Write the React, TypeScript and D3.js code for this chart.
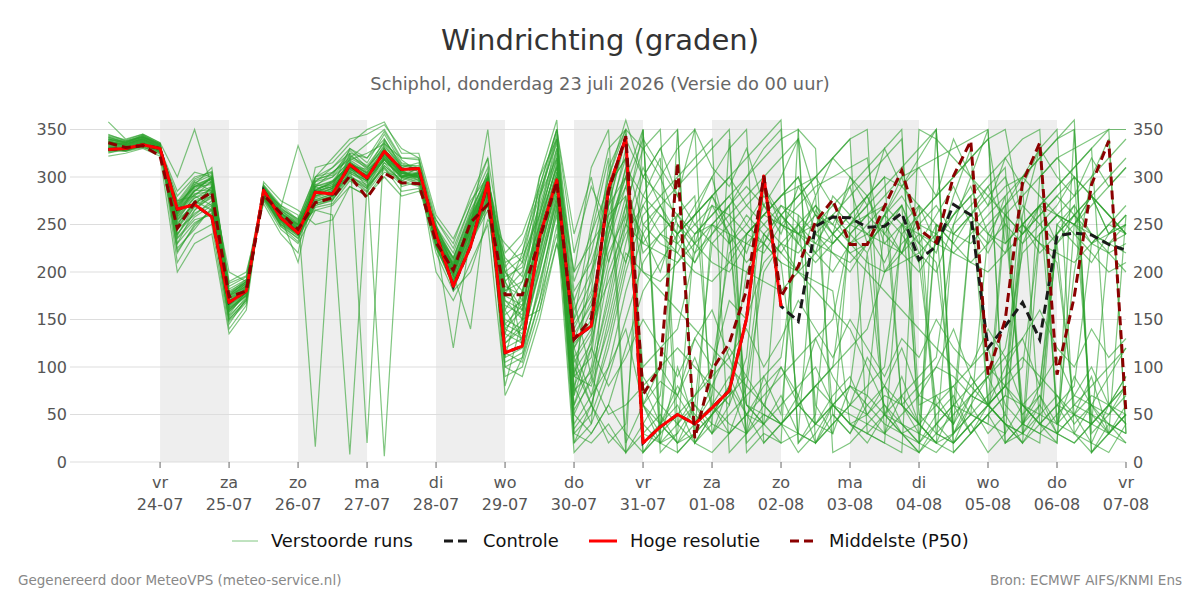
import { useEffect, useRef } from "react";
import * as d3 from "d3";

// run start: donderdag 23-07 06 UTC, 6-uurlijkse stappen
const runStart = Date.UTC(2026, 6, 23, 6);
const stepHours = 6;

const dayNames = ["vr", "za", "zo", "ma", "di", "wo", "do", "vr", "za", "zo", "ma", "di", "wo", "do", "vr"];
const dayLabels = ["24-07", "25-07", "26-07", "27-07", "28-07", "29-07", "30-07", "31-07", "01-08", "02-08", "03-08", "04-08", "05-08", "06-08", "07-08"];
const yTicks = [0, 50, 100, 150, 200, 250, 300, 350];

const hogeResolutie = [
  329, 330, 334, 330, 266, 271, 258, 168, 180, 286,
  257, 241, 284, 282, 313, 299, 327, 308, 309, 240,
  185, 227, 294, 115, 122, 237, 297, 130, 143, 288,
  341, 20, 37, 50, 40, 57, 75, 151, 301, 164,
];

const controle = [
  329, 330, 334, 330, 266, 271, 258, 168, 180, 286,
  257, 241, 284, 282, 313, 299, 327, 308, 309, 240,
  185, 227, 294, 115, 122, 237, 297, 130, 143, 288,
  341, 20, 37, 50, 40, 57, 75, 151, 301, 164,
  148, 248, 258, 257, 247, 248, 262, 213, 227, 271,
  260, 120, 143, 168, 129, 238, 241, 239, 229, 223,
];

const middelste = [
  336, 331, 333, 322, 246, 273, 284, 174, 180, 281,
  262, 245, 273, 278, 301, 278, 304, 294, 293, 231,
  202, 252, 271, 176, 176, 234, 295, 129, 151, 285,
  343, 71, 100, 315, 25, 97, 125, 181, 301, 174,
  206, 253, 276, 229, 229, 269, 307, 245, 231, 301,
  338, 92, 150, 294, 336, 92, 174, 292, 338, 51,
];

// verstoorde runs (eerste 23 stappen | rest)
const verstoordeRuns = [
  "340 335 340 332 240 265 280 165 178 285 262 250 290 295 310 300 320 305 300 230 210 250 285 | 150 140 230 300 120 150 280 340 20 40 80 50 30 60 110 290 250 240 260 250 230 240 260 300 240 220 280 330 60 80 260 330 40 200 300 340 30",
  "330 328 336 328 270 290 295 180 190 278 255 240 275 280 320 310 330 300 305 245 195 240 300 | 180 200 260 320 90 110 250 300 350 10 30 60 40 30 80 200 230 250 270 240 220 230 250 270 220 200 250 300 350 20 40 60 30 50 70 60 50",
  "345 338 342 335 220 250 265 150 170 290 268 333 285 290 300 285 315 295 290 225 190 235 275 | 120 130 200 280 60 100 200 250 230 220 210 240 260 280 300 320 340 350 20 40 60 50 70 60 80 100 90 70 60 40 30 50 240 260 280 300 320",
  "325 330 335 326 260 285 300 175 185 280 250 235 270 275 325 320 340 310 315 250 205 255 295 | 200 180 250 310 140 180 300 350 330 300 250 230 210 200 230 250 270 260 240 230 250 270 290 310 330 350 10 30 50 70 60 80 250 230 210 240 260",
  "338 333 339 331 255 270 290 160 175 287 258 245 295 300 315 305 325 290 295 220 180 230 265 | 140 160 220 290 100 60 120 200 260 280 300 320 340 10 30 50 40 60 80 100 120 140 200 230 250 240 220 210 230 250 60 40 30 20 40 60 80",
  "332 329 333 329 280 300 305 185 195 275 245 230 265 270 290 280 305 300 300 240 215 260 305 | 170 150 240 300 200 230 260 280 60 40 20 30 50 70 90 230 260 280 300 270 250 240 230 220 260 280 300 320 340 350 250 230 220 210 230 240 250",
  "342 336 344 334 210 240 250 140 165 292 270 260 16 290 330 315 345 315 310 235 200 245 290 | 110 120 180 270 40 70 150 230 300 330 350 20 50 80 200 240 220 200 180 160 140 100 60 40 20 10 30 50 70 90 110 90 70 50 40 30 20",
  "328 331 337 327 265 295 285 172 182 283 255 242 280 285 308 300 318 298 302 228 188 225 280 | 190 210 270 330 160 200 290 320 250 230 220 200 190 210 240 260 280 290 300 320 340 350 30 50 70 60 40 250 270 290 300 280 260 240 220 200 210",
  "336 334 341 333 245 260 275 155 180 288 262 250 265 260 8 290 310 285 288 248 220 270 310 | 130 150 210 280 80 120 240 310 280 260 240 260 280 300 320 340 360 20 40 60 80 70 50 30 40 60 80 100 120 60 40 30 50 70 60 40 30",
  "333 330 335 330 275 280 270 178 188 279 252 238 290 305 318 325 335 320 320 238 198 242 285 | 160 190 240 305 110 140 220 260 90 60 40 20 10 30 50 70 90 110 130 150 240 260 280 300 310 320 330 340 350 20 30 300 320 330 340 350 350",
  "340 337 343 333 235 255 260 145 172 286 265 252 285 295 312 295 322 302 296 232 192 238 278 | 100 110 190 260 50 90 180 270 330 350 40 70 100 220 240 260 250 240 230 220 210 230 250 270 50 30 20 40 60 80 100 240 260 250 230 220 200",
  "329 327 333 327 268 292 310 182 192 281 248 236 272 278 302 288 312 296 305 242 208 252 298 | 210 220 280 340 180 210 270 300 200 180 160 140 120 100 80 60 40 60 80 100 240 260 240 220 200 230 260 280 300 320 340 350 40 60 80 100 120",
  "344 339 345 336 225 245 268 158 176 289 266 256 300 310 325 20 340 312 308 226 186 232 270 | 145 135 215 295 70 130 260 320 10 30 50 70 90 110 60 40 20 30 250 270 290 310 330 350 20 40 60 80 100 80 60 40 30 20 40 60 90",
  "331 329 334 329 262 288 298 168 184 284 256 244 276 282 300 292 315 304 300 236 202 248 288 | 175 165 245 315 130 170 230 290 340 310 280 250 230 210 200 190 180 200 220 240 260 280 300 290 270 250 230 210 200 220 240 260 280 260 240 230 220",
  "337 335 340 332 250 275 282 163 179 286 260 246 282 288 310 300 328 306 303 234 196 244 284 | 125 145 225 285 30 50 100 180 240 270 290 310 330 350 20 40 60 80 100 60 40 30 20 250 240 230 220 240 260 280 300 320 340 360 10 30 50",
  "326 328 332 325 272 296 304 176 190 277 252 240 268 272 296 284 308 292 298 246 212 258 300 | 195 205 265 325 150 190 310 350 30 20 40 60 230 250 270 290 260 240 220 200 230 250 270 60 40 20 10 30 50 70 250 270 290 310 330 350 30",
  "339 336 342 334 240 262 272 152 174 290 264 250 288 292 316 304 6 300 294 230 190 236 276 | 135 125 205 275 90 80 140 220 200 190 210 230 250 240 230 220 250 270 290 300 310 320 200 210 220 240 260 280 60 40 30 20 250 270 240 230 240",
  "334 331 337 330 258 282 290 170 186 283 257 243 279 286 312 302 324 304 302 238 200 250 290 | 185 175 255 310 120 160 250 330 60 85 70 130 100 170 150 210 230 200 265 240 300 280 230 250 210 60 40 70 90 50 230 250 270 300 280 260 240",
  "341 337 343 335 230 252 262 148 168 291 268 254 292 300 322 312 336 310 306 228 184 230 272 | 115 105 170 265 20 40 90 150 210 240 230 250 270 260 240 230 210 200 190 180 40 30 20 10 350 340 320 300 280 260 240 260 280 300 40 60 80",
  "330 329 335 328 266 290 300 174 188 280 254 240 274 280 306 296 320 300 304 244 206 254 296 | 205 230 285 335 170 220 300 360 300 280 260 240 250 270 60 50 40 30 20 40 60 80 100 240 260 280 300 320 340 230 250 270 60 50 40 230 250",
  "336 333 338 331 252 272 284 160 178 285 259 247 284 290 310 298 326 302 300 232 120 240 282 | 155 170 235 300 95 125 210 280 100 120 140 220 240 260 280 300 320 340 40 60 80 60 40 30 20 250 240 230 250 270 290 40 60 80 230 250 270",
  "327 330 334 326 274 298 306 178 192 278 250 238 270 276 298 288 310 294 300 248 214 262 304 | 90 100 160 250 10 30 60 120 180 210 240 270 300 330 350 20 40 60 80 60 50 40 30 20 10 30 50 70 90 110 60 50 40 30 20 10 40",
  "343 338 344 335 222 248 266 150 170 290 267 253 296 304 324 308 338 314 308 228 188 234 274 | 215 195 275 345 190 240 320 10 40 70 240 260 280 300 270 250 230 220 240 260 280 300 320 340 60 70 80 50 40 260 280 300 320 300 280 260 240",
  "332 330 336 329 262 286 294 168 184 283 256 244 278 284 308 298 322 302 302 240 204 250 292 | 165 155 235 298 125 145 190 240 270 300 330 350 30 50 70 90 110 240 250 260 230 210 200 220 240 30 20 40 60 80 300 320 340 350 30 50 70",
  "338 334 340 332 246 268 278 158 176 287 261 249 286 294 314 304 330 306 298 234 198 140 286 | 105 115 185 270 35 60 130 210 280 320 10 30 50 70 240 260 280 300 260 240 220 200 180 160 140 120 100 80 60 40 20 240 260 250 240 220 230",
  "329 328 333 327 270 294 302 176 190 279 253 239 272 276 300 290 312 296 302 246 210 256 298 | 200 215 260 318 145 175 240 300 220 240 260 280 60 40 30 240 260 280 300 320 340 30 50 70 90 110 240 260 280 300 250 230 210 60 50 40 30",
  "340 336 342 333 236 258 270 154 172 288 265 251 290 296 318 306 334 308 304 230 192 238 280 | 140 130 210 285 75 95 170 260 350 20 30 240 260 280 250 230 210 60 40 30 250 260 270 250 230 210 60 50 40 30 250 270 290 310 330 60 40",
  "335 332 337 330 256 278 288 166 182 284 257 245 280 288 310 300 326 304 300 238 202 248 350 | 180 190 250 312 135 165 270 345 80 100 120 100 80 60 240 260 280 300 240 220 200 230 260 290 320 350 30 60 90 120 220 240 260 280 300 320 340",
  "331 329 335 328 264 290 298 172 186 281 255 241 276 282 304 294 318 300 304 242 206 252 294 | 125 140 200 275 55 85 160 250 310 270 230 210 240 270 300 330 350 20 50 240 260 280 300 60 40 20 30 50 240 270 300 330 350 30 60 90 120",
  "337 334 339 331 248 270 280 162 178 286 260 248 284 292 312 302 328 306 300 236 198 244 284 | 170 160 245 305 105 135 230 310 40 20 10 30 250 270 290 270 250 230 210 230 250 270 50 40 30 20 250 270 290 310 40 30 20 250 270 290 310",
  "358 340 345 336 300 350 290 200 190 276 248 232 300 320 340 345 355 330 320 255 225 270 320 | 210 120 280 350 20 60 30 10 350 40 20 60 30 80 50 40 70 30 20 60 40 50 30 70 40 20 60 30 50 20 40 70 30 50 20 60 40",
  "322 325 330 322 200 230 240 135 160 295 275 265 250 255 290 280 300 280 285 255 230 280 320 | 70 110 170 240 90 200 250 290 230 260 240 210 250 230 260 240 220 250 230 260 240 220 260 240 210 250 230 260 240 230 250 220 240 260 230 250 240",
  "334 332 338 330 285 305 300 190 200 272 240 220 310 315 335 350 358 325 325 260 235 275 300 | 200 170 300 340 150 250 330 350 10 30 350 20 40 340 10 30 20 350 330 10 20 40 60 30 10 350 20 40 10 30 60 40 20 350 10 30 50",
  "331 327 331 326 230 265 285 162 175 282 258 210 295 310 330 320 348 318 305 200 170 210 250 | 80 150 160 230 170 90 50 60 80 40 70 110 60 90 50 80 100 60 40 70 90 50 80 60 30 70 40 90 60 80 50 70 40 90 60 50 80",
  "339 336 341 334 265 285 300 188 196 285 270 255 300 305 320 335 350 320 318 250 180 200 255 | 230 210 290 350 240 300 210 270 240 200 260 230 280 250 220 270 240 290 260 230 250 280 240 270 230 260 290 250 220 260 240 270 230 250 280 260 240",
  "327 329 332 324 245 275 265 170 182 278 250 240 290 280 310 290 320 300 310 245 215 265 300 | 190 160 250 330 30 20 40 10 30 50 20 40 60 30 50 20 40 10 30 60 40 20 50 30 10 40 20 60 30 50 20 40 60 30 10 40 20",
  "342 337 342 334 238 270 290 175 190 284 256 250 298 302 328 310 332 312 312 236 195 260 292 | 110 180 220 300 60 120 80 110 150 120 90 130 160 110 140 100 130 170 140 110 150 120 90 130 110 150 120 100 140 110 130 160 120 100 140 110 130",
  "330 329 336 329 272 290 292 168 185 280 262 248 286 296 312 308 322 304 302 242 208 250 296 | 175 220 300 360 80 40 270 340 300 330 280 350 310 290 330 270 300 340 280 320 300 270 330 290 310 280 340 300 270 320 290 330 300 280 320 290 310",
  "336 334 339 333 254 280 296 165 183 286 262 246 292 288 316 300 326 308 296 234 206 248 286 | 135 180 260 340 70 240 290 320 60 20 100 40 70 240 30 90 50 260 60 30 80 220 50 90 40 250 30 70 60 270 40 80 230 50 90 30 60",
  "328 330 335 328 262 282 285 172 188 282 254 244 280 286 306 296 318 300 300 240 205 250 290 | 160 130 230 290 110 60 20 40 250 270 240 260 300 230 250 280 260 240 270 250 290 230 260 280 250 270 240 260 290 250 230 270 260 250 280 240 260",
  "335 333 338 331 260 286 286 166 180 284 258 245 284 290 312 302 326 304 300 236 200 246 286 | 145 165 240 300 50 30 60 30 10 40 60 20 50 80 30 60 40 70 20 50 30 60 80 40 20 50 70 30 60 40 20 50 70 40 60 30 50",
  "333 331 336 330 258 278 284 164 181 285 259 246 282 288 310 300 324 304 302 238 202 248 290 | 190 150 280 320 200 310 350 20 60 30 250 220 270 240 60 40 260 230 280 50 30 70 250 220 270 40 60 250 230 280 30 60 240 270 50 30 260",
  "337 335 340 332 250 274 280 160 178 287 262 250 286 294 314 304 330 306 300 234 196 242 282 | 100 90 150 230 120 70 100 140 60 100 70 40 80 120 90 60 100 70 130 90 60 110 80 120 70 100 140 90 60 100 130 80 110 70 100 60 90",
  "330 328 334 328 268 292 298 174 188 280 254 240 274 280 304 296 318 300 304 244 206 254 298 | 220 240 290 350 220 290 250 210 270 240 220 260 280 240 210 230 270 250 220 280 260 240 210 250 270 230 260 290 240 220 270 250 230 260 280 240 250",
];

const FONT = "DejaVu Sans, Verdana, sans-serif";

const WindChart = ({ width = 1200, height = 600 }: { width?: number; height?: number }) => {
  const ref = useRef<SVGSVGElement | null>(null);

  useEffect(() => {
    if (!ref.current) return;
    const svg = d3.select(ref.current);
    svg.selectAll("*").remove();
    svg.attr("width", width).attr("height", height).style("font-family", FONT);

    const left = 70, right = 1126, top = 120, bottom = 462;

    const x = d3
      .scaleUtc()
      .domain([new Date(Date.UTC(2026, 6, 22, 16, 40)), new Date(Date.UTC(2026, 7, 7))])
      .range([left, right]);
    const y = d3.scaleLinear().domain([0, 360]).range([bottom, top]);

    const timeAt = (i: number) => new Date(runStart + i * stepHours * 3600 * 1000);
    const dayDates = dayLabels.map((_, i) => new Date(Date.UTC(2026, 6, 24 + i)));

    // grijze banden om de dag
    svg
      .append("g")
      .selectAll("rect")
      .data(dayDates.filter((_, i) => i % 2 === 0 && i < dayDates.length - 1))
      .enter()
      .append("rect")
      .attr("x", (d) => x(d))
      .attr("y", top)
      .attr("width", (d) => x(d3.utcDay.offset(d, 1)) - x(d))
      .attr("height", bottom - top)
      .attr("fill", "#eeeeee");

    // gridlijnen
    svg
      .append("g")
      .selectAll("line")
      .data(yTicks)
      .enter()
      .append("line")
      .attr("x1", left)
      .attr("x2", right)
      .attr("y1", (d) => y(d))
      .attr("y2", (d) => y(d))
      .attr("stroke", "#dddddd")
      .attr("stroke-width", 1);

    // y labels links en rechts
    const yl = svg.append("g").style("font-size", "16px").attr("fill", "#555");
    yl.selectAll("text.l")
      .data(yTicks)
      .enter()
      .append("text")
      .attr("x", left - 3)
      .attr("y", (d) => y(d))
      .attr("dy", "0.35em")
      .attr("text-anchor", "end")
      .text((d) => d);
    yl.selectAll("text.r")
      .data(yTicks)
      .enter()
      .append("text")
      .attr("x", right + 7)
      .attr("y", (d) => y(d))
      .attr("dy", "0.35em")
      .attr("text-anchor", "start")
      .text((d) => d);

    // x ticks en labels
    const xg = svg.append("g");
    xg.selectAll("line")
      .data(dayDates)
      .enter()
      .append("line")
      .attr("x1", (d) => x(d))
      .attr("x2", (d) => x(d))
      .attr("y1", bottom)
      .attr("y2", bottom + 6)
      .attr("stroke", "#666")
      .attr("stroke-width", 1);
    const xt = xg
      .selectAll("text")
      .data(dayDates)
      .enter()
      .append("text")
      .attr("text-anchor", "middle")
      .attr("fill", "#555")
      .style("font-size", "16px");
    xt.append("tspan")
      .attr("x", (d) => x(d))
      .attr("y", 488)
      .text((_, i) => dayNames[i]);
    xt.append("tspan")
      .attr("x", (d) => x(d))
      .attr("y", 510)
      .text((_, i) => dayLabels[i]);

    const line = d3
      .line<number>()
      .x((_, i) => x(timeAt(i)))
      .y((d) => y(d));

    const plot = svg.append("g");

    const runs = verstoordeRuns.map((s) =>
      s.split(/\s+/).filter((t) => t !== "|" && t !== "").map(Number)
    );
    plot
      .selectAll("path.run")
      .data(runs)
      .enter()
      .append("path")
      .attr("d", (d) => line(d))
      .attr("fill", "none")
      .attr("stroke", "#2ca02c")
      .attr("stroke-opacity", 0.6)
      .attr("stroke-width", 1.2);

    plot
      .append("path")
      .attr("d", line(controle))
      .attr("fill", "none")
      .attr("stroke", "#1a1a1a")
      .attr("stroke-width", 3)
      .attr("stroke-dasharray", "9,5");

    plot
      .append("path")
      .attr("d", line(hogeResolutie))
      .attr("fill", "none")
      .attr("stroke", "#ff0000")
      .attr("stroke-width", 3)
      .attr("stroke-linejoin", "round");

    plot
      .append("path")
      .attr("d", line(middelste))
      .attr("fill", "none")
      .attr("stroke", "#8b0000")
      .attr("stroke-width", 3)
      .attr("stroke-dasharray", "9,5");

    // titels
    svg
      .append("text")
      .attr("x", width / 2)
      .attr("y", 50)
      .attr("text-anchor", "middle")
      .style("font-size", "29px")
      .attr("fill", "#333")
      .text("Windrichting (graden)");
    svg
      .append("text")
      .attr("x", width / 2)
      .attr("y", 90)
      .attr("text-anchor", "middle")
      .style("font-size", "17.8px")
      .attr("fill", "#666")
      .text("Schiphol, donderdag 23 juli 2026 (Versie do 00 uur)");

    // legenda
    const legend = [
      { label: "Verstoorde runs", x0: 232, x1: 258, tx: 271, color: "#2ca02c", w: 1, dash: null, op: 0.6 },
      { label: "Controle", x0: 444, x1: 470, tx: 483, color: "#1a1a1a", w: 3, dash: "9,5", op: 1 },
      { label: "Hoge resolutie", x0: 589, x1: 617, tx: 630, color: "#ff0000", w: 3, dash: null, op: 1 },
      { label: "Middelste (P50)", x0: 790, x1: 816, tx: 829, color: "#8b0000", w: 3, dash: "9,5", op: 1 },
    ];
    const lg = svg.append("g");
    legend.forEach((l) => {
      lg.append("line")
        .attr("x1", l.x0)
        .attr("x2", l.x1)
        .attr("y1", 541)
        .attr("y2", 541)
        .attr("stroke", l.color)
        .attr("stroke-width", l.w)
        .attr("stroke-opacity", l.op)
        .attr("stroke-dasharray", l.dash);
      lg.append("text")
        .attr("x", l.tx)
        .attr("y", 541)
        .attr("dy", "0.35em")
        .style("font-size", "17.9px")
        .attr("fill", "#111")
        .text(l.label);
    });

    // voetregel
    svg
      .append("text")
      .attr("x", 18)
      .attr("y", 585)
      .style("font-size", "13.5px")
      .attr("fill", "#888")
      .text("Gegenereerd door MeteoVPS (meteo-service.nl)");
    svg
      .append("text")
      .attr("x", 1182)
      .attr("y", 585)
      .attr("text-anchor", "end")
      .style("font-size", "13.5px")
      .attr("fill", "#888")
      .text("Bron: ECMWF AIFS/KNMI Ens");
  }, [width, height]);

  return <svg ref={ref} style={{ position: "absolute", left: 0, top: 0 }} />;
};

export default function App() {
  return <WindChart />;
}
